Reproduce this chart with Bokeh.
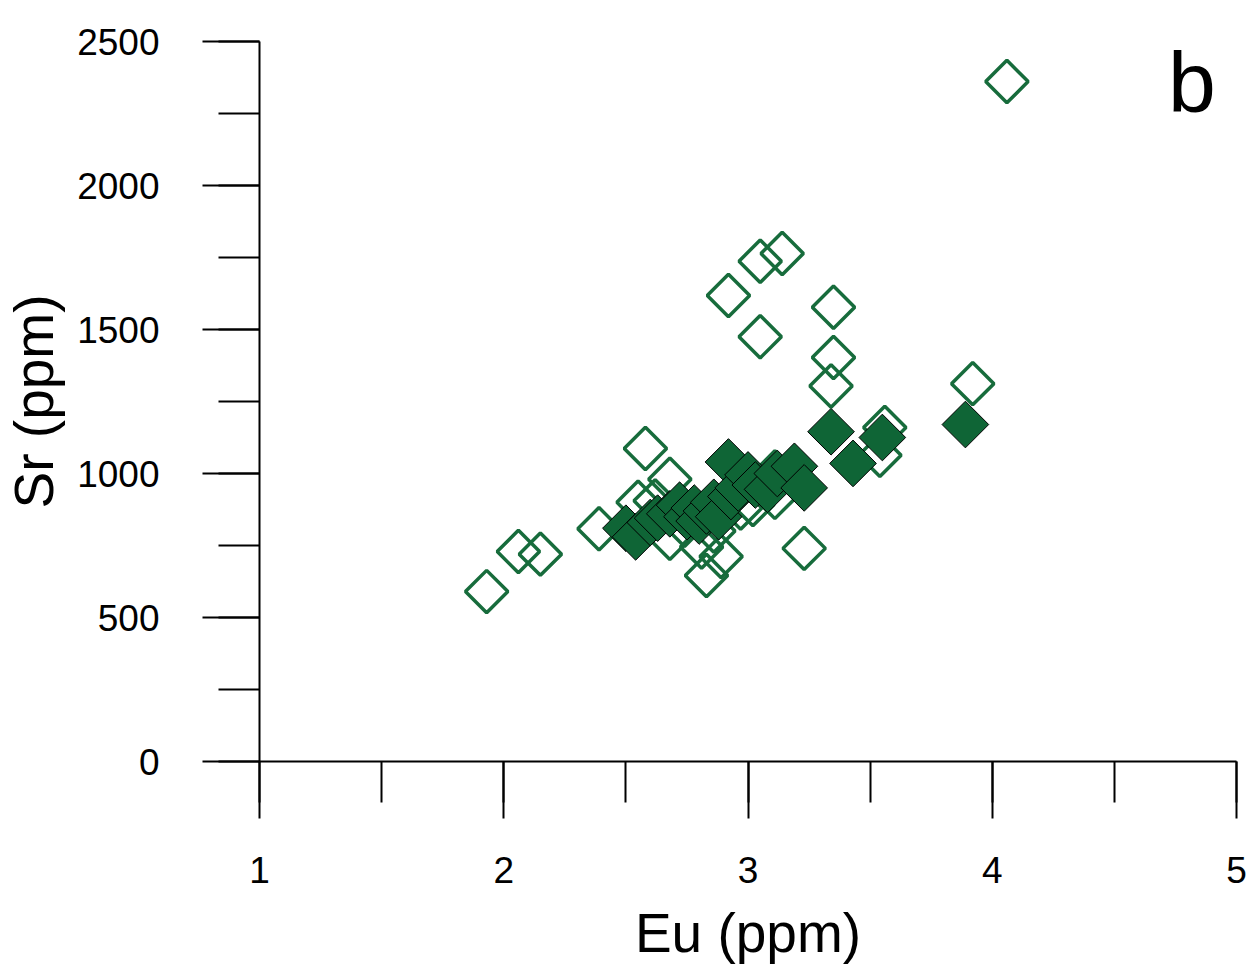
import numpy as np
from bokeh.plotting import figure
from bokeh.models import Range1d, SingleIntervalTicker, Label
from bokeh.embed import file_html
from bokeh.resources import INLINE

# Open diamonds (Eu ppm, Sr ppm)
open_eu = [1.93, 2.06, 2.15, 2.39, 2.58, 2.68, 2.62, 2.55, 2.68, 2.83, 2.89, 2.81,
           2.92, 3.05, 3.14, 3.05, 3.35, 3.35, 3.34, 3.92, 4.06, 3.23, 3.56, 3.54,
           3.02, 3.11, 3.11, 2.74, 2.86, 2.97]
open_sr = [590, 729, 720, 808, 1087, 980, 905, 900, 775, 646, 712, 745,
           1618, 1737, 1764, 1475, 1577, 1403, 1304, 1312, 2361, 740, 1160, 1063,
           892, 917, 1005, 820, 800, 880]

# Filled diamonds (Eu ppm, Sr ppm)
fill_eu = [2.50, 2.54, 2.60, 2.63, 2.68, 2.72, 2.75, 2.78, 2.80, 2.83, 2.86, 2.88,
           2.92, 2.93, 2.96, 3.00, 3.03, 3.08, 3.12, 3.19, 3.23, 3.34, 3.43, 3.55, 3.89]
fill_sr = [810, 780, 830, 845, 860, 890, 850, 880, 835, 870, 900, 850,
           1040, 920, 950, 995, 960, 945, 1000, 1025, 950, 1145, 1035, 1125, 1170]

x_ticks_interval = 1
y_ticks_interval = 500
x_title = "Eu (ppm)"
y_title = "Sr (ppm)"
panel_letter = "b"

FONT = "Liberation Sans"
GREEN_LINE = "#176c3c"
GREEN_FILL = "#0f6536"

p = figure(width=1252, height=968, output_backend="svg", toolbar_location=None,
           x_range=Range1d(1, 5), y_range=Range1d(0, 2500),
           min_border_left=259, min_border_right=16, min_border_top=41,
           min_border_bottom=207, background_fill_color="white",
           border_fill_color="white")
p.outline_line_color = None
p.grid.visible = False

p.xaxis.ticker = SingleIntervalTicker(interval=x_ticks_interval, num_minor_ticks=2)
p.yaxis.ticker = SingleIntervalTicker(interval=y_ticks_interval, num_minor_ticks=2)

for ax in (p.xaxis[0], p.yaxis[0]):
    ax.axis_line_width = 2
    ax.axis_line_color = "black"
    ax.major_tick_line_width = 2
    ax.minor_tick_line_width = 2
    ax.major_tick_in = 0
    ax.minor_tick_in = 0
    ax.major_tick_out = 57
    ax.minor_tick_out = 41
    ax.major_label_text_font = FONT
    ax.major_label_text_font_size = "37px"
    ax.major_label_text_color = "black"
    ax.axis_label_text_font = FONT
    ax.axis_label_text_font_style = "normal"
    ax.axis_label_text_font_size = "55px"
    ax.axis_label_text_color = "black"

p.xaxis.axis_label = x_title
p.yaxis.axis_label = y_title
p.xaxis.major_label_standoff = 38
p.yaxis.major_label_standoff = 43
p.xaxis.axis_label_standoff = 16
p.yaxis.axis_label_standoff = 9

p.scatter(open_eu, open_sr, marker="square", size=30, angle=np.pi / 4,
          fill_color=None, line_color=GREEN_LINE, line_width=3.5)
p.scatter(fill_eu, fill_sr, marker="square", size=33, angle=np.pi / 4,
          fill_color=GREEN_FILL, line_color="black", line_width=1)

p.add_layout(Label(x=4.72, y=2358, text=panel_letter, text_font=FONT,
                   text_font_size="86px", text_color="black",
                   text_baseline="alphabetic"))

open("out.html", "w").write(file_html(p, INLINE))
